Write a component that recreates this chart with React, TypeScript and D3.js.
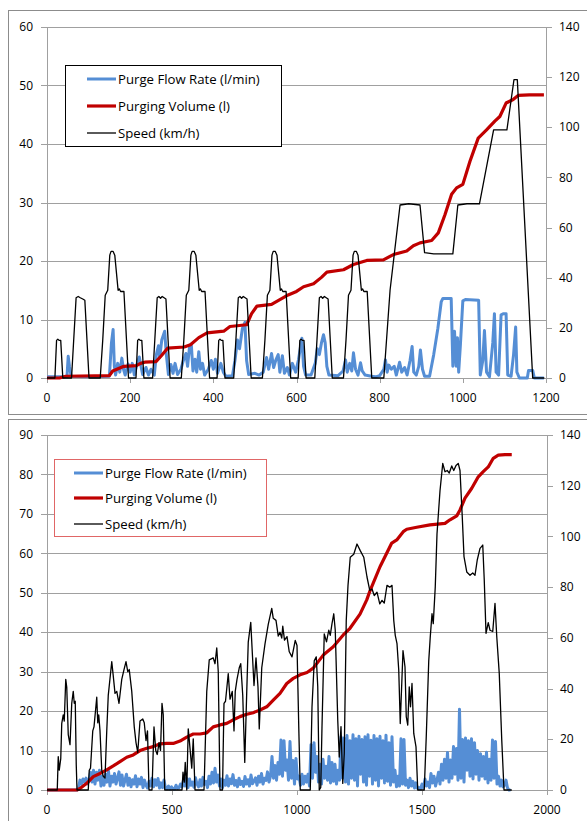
import * as React from "react"
import * as d3 from "d3"

type Pt = [number, number]

// ---- top panel (NEDC), time in s ----
const topFlow: Pt[] = [
    [0, 0.2], [48, 0.2], [51, 3.7], [54, 2], [58, 0.3], [100, 0.2], [150, 0.3], [155, 6], [159, 8.3], [162, 2],
    [165, 0.5], [170, 2.5], [175, 1], [180, 3.4], [184, 1.5], [188, 0.5], [195, 2.4], [200, 1], [205, 2.5], [210, 0.5],
    [218, 2.8], [222, 3.6], [226, 2], [230, 0.6], [238, 1.8], [244, 0.5], [250, 1.5], [258, 0.5], [263, 4], [268, 5.5],
    [271, 3.5], [276, 6.5], [283, 8], [287, 4], [292, 0.6], [298, 2.3], [303, 0.8], [308, 2.5], [314, 0.6], [322, 1.5],
    [328, 3], [334, 4.2], [338, 2], [343, 5.5], [347, 5.8], [351, 1.2], [356, 3.2], [360, 1], [365, 4.5], [369, 1.5],
    [374, 2.5], [379, 0.5], [388, 1.5], [395, 3], [400, 1.5], [405, 3.2], [410, 0.8], [418, 2.5], [424, 1], [430, 0.3],
    [446, 0.4], [452, 3], [458, 6.5], [463, 5], [470, 8.5], [476, 9.5], [480, 3], [485, 0.6], [500, 0.8], [510, 0.5],
    [520, 1], [528, 3.5], [533, 1.5], [540, 4.2], [545, 1.8], [550, 3], [556, 4], [560, 1], [566, 3.8], [571, 0.8],
    [578, 1.8], [583, 0.5], [590, 2.5], [598, 1], [605, 3.2], [610, 5.5], [613, 6.8], [617, 2], [622, 0.5], [635, 0.5],
    [645, 2.5], [650, 5], [655, 4], [660, 6], [665, 7.4], [669, 6], [673, 2], [678, 0.5], [700, 0.4], [712, 1.2],
    [718, 3.1], [722, 1], [728, 2.5], [733, 1.2], [737, 4.3], [742, 1.5], [748, 0.5], [754, 2.6], [758, 1.2], [765, 0.5],
    [780, 0.3], [790, 0.2], [800, 0.4], [810, 1.5], [814, 3.1], [818, 1], [822, 2.2], [828, 1.5], [835, 2], [840, 0.5],
    [848, 2.7], [853, 1], [860, 1.8], [866, 0.5], [873, 3], [878, 5.4], [882, 1], [888, 0.5], [894, 2], [898, 4.8],
    [903, 1.5], [908, 0.3], [920, 0.3], [930, 4], [940, 8.5], [948, 13], [952, 13.6], [972, 13.6], [976, 2], [980, 8],
    [984, 2], [987, 6.9], [990, 1], [994, 5.5], [1000, 13.2], [1006, 13.4], [1038, 13.3], [1042, 0.5], [1048, 3], [1052, 8.1],
    [1057, 1], [1064, 0.2], [1072, 6], [1076, 11], [1080, 1], [1086, 0.5], [1092, 10.8], [1098, 11], [1104, 11], [1108, 0.5],
    [1116, 0.3], [1122, 4], [1127, 8.7], [1130, 1], [1136, 0], [1155, 0], [1158, 1.3], [1168, 1.3], [1172, 0], [1195, 0],
]

const topVolume: Pt[] = [
    [0, 0], [30, 0], [45, 0.3], [150, 0.4], [158, 1.2], [168, 1.5], [185, 2.0], [215, 2.1], [225, 2.5], [235, 2.7],
    [262, 2.8], [275, 3.8], [290, 5.1], [330, 5.3], [345, 5.7], [365, 6.9], [385, 7.7], [425, 8.0], [440, 8.8], [480, 9.1],
    [492, 11], [505, 12.3], [540, 12.6], [560, 13.4], [580, 14.2], [600, 14.8], [617, 15.6], [641, 16.1], [660, 17.2], [673, 18.1],
    [713, 18.5], [737, 19.4], [769, 20.1], [809, 20.2], [833, 21.1], [865, 21.7], [881, 22.6], [897, 23.1], [925, 23.5], [941, 24.8],
    [957, 27.9], [973, 31.4], [985, 32.5], [1000, 33.1], [1017, 37], [1037, 41], [1057, 42.4], [1077, 43.9], [1089, 44.7], [1104, 47],
    [1121, 47.6], [1133, 48.3], [1160, 48.4], [1195, 48.4],
]

const topSpeed: Pt[] = [
    [0, 0], [19, 0], [23, 15], [26, 15.5], [29, 15], [33, 15], [38, 0], [59, 0], [70, 32], [75, 32.5],
    [80, 32], [86, 31.5], [91, 31], [101, 0], [128, 0], [134, 15], [140, 33], [146, 35], [151, 49], [154, 50.5],
    [159, 50.5], [163, 49], [171, 35], [174, 35.5], [177, 34.5], [185, 34.5], [196, 0],
    [214, 0], [218, 15], [221, 15.5], [224, 15], [228, 15], [233, 0], [254, 0], [265, 32], [269, 32.5],
    [273, 31.8], [277, 32.5], [286, 31.5], [296, 0], [323, 0], [329, 15], [335, 33], [341, 35], [346, 49], [349, 50.5],
    [354, 50.5], [358, 49], [366, 35], [369, 35.5], [372, 34.5], [380, 34.5], [391, 0],
    [409, 0], [413, 15], [416, 15.5], [419, 15], [423, 15], [428, 0], [449, 0], [460, 32], [464, 32.5],
    [468, 31.8], [472, 32.5], [481, 31.5], [491, 0], [518, 0], [524, 15], [530, 33], [536, 35], [541, 49], [544, 50.5],
    [549, 50.5], [553, 49], [561, 35], [564, 35.5], [567, 34.5], [575, 34.5], [586, 0],
    [604, 0], [608, 15], [611, 15.5], [614, 15], [618, 15], [623, 0], [644, 0], [655, 32], [659, 32.5],
    [663, 31.8], [667, 32.5], [676, 31.5], [686, 0], [713, 0], [719, 15], [725, 33], [731, 35], [736, 49], [739, 50.5],
    [744, 50.5], [748, 49], [756, 35], [759, 35.5], [762, 34.5], [770, 34.5], [781, 0],
    [810, 0], [825, 35], [849, 69], [870, 69.5], [897, 69], [908, 50], [930, 49.5], [976, 49.5], [988, 69], [1010, 69.5],
    [1040, 69.5], [1074, 99], [1090, 99], [1106, 99], [1123, 119], [1131, 119], [1168, 0], [1196, 0],
]

const topXTicks = [0, 200, 400, 600, 800, 1000, 1200]
const topLeftTicks = [0, 10, 20, 30, 40, 50, 60]
const topRightTicks = [0, 20, 40, 60, 80, 100, 120, 140]

// ---- bottom panel (road drive), flow sampled every 6 s ----
const bottomFlowStep = 6
const bottomFlow: number[] = [
    0, 0, 0, 0, 0, 0, 0, 0, 0, 0,
    0, 0, 0, 0, 0, 0, 0, 0, 0, 0,
    0, 0.5, 2.5, 1.5, 2.8, 2, 3, 1.5, 2.5, 4.5,
    2, 5, 1.5, 4.5, 2.5, 5, 1, 3.5, 1.2, 4,
    2, 4.8, 1, 3.5, 2, 4.2, 1.5, 3, 4.6, 1.2,
    3.8, 1, 2.5, 4, 1.2, 3, 0.8, 2.6, 1.5, 3.6,
    0.8, 2.8, 1.5, 3.2, 0.6, 2.5, 1.2, 0.5, 2.2, 1,
    3, 0.8, 2.6, 1.2, 2.9, 0.5, 1.8, 0.6, 2.5, 0.4,
    0.3, 1, 0.2, 0.8, 0.3, 0.2, 1.2, 0.4, 0.6, 1.5,
    0.8, 2.5, 1, 3, 0.6, 2.8, 1.2, 2, 0.7, 3.1,
    1.5, 0.8, 2.6, 1, 3.2, 1.4, 2.2, 0.6, 3.5, 1.5,
    4.5, 1.8, 5.5, 2, 3.8, 1, 2.8, 0.6, 2.5, 1.2,
    3.6, 1, 2.8, 1.6, 3.9, 1.2, 2.4, 0.8, 3, 1.4,
    2.2, 0.9, 3.4, 1.5, 2.6, 1, 3.8, 1.6, 2.2, 3.1,
    1.2, 3.5, 2, 4.2, 1.5, 3, 2.4, 4.6, 2, 3.5,
    8.5, 3, 6.2, 2.5, 7, 4, 12.7, 3.5, 12.5, 5,
    7.6, 2.5, 12.3, 3, 7.5, 1.5, 8, 2.8, 3.5, 1.2,
    4, 1.5, 3.5, 2, 4, 1, 11.5, 3, 12, 4.5,
    8.5, 2, 6.5, 1.5, 7.8, 3, 6, 2.5, 8.5, 1.8,
    7, 2.2, 6.5, 1.5, 5, 2.5, 13.5, 3, 13.2, 2,
    13.8, 1.5, 12.5, 3, 14, 2.5, 13, 1, 13.6, 4,
    12.8, 2, 13.5, 1.2, 14, 3.5, 12.6, 1.5, 13.8, 2.5,
    13, 1, 13.6, 3, 12.5, 1.8, 13.9, 2.2, 12, 1.2,
    13.5, 2, 5, 0.8, 3.5, 1, 13, 1.5, 12.8, 1.2,
    2.5, 0.6, 3, 1, 2.2, 0.5, 1.8, 0.4, 0.6, 0.3,
    1.5, 0.5, 2.8, 1, 2, 0.6, 4.2, 1.8, 3.5, 1,
    2.5, 4.5, 1.5, 6.5, 2.5, 7.8, 3, 9.5, 2, 7.6,
    3, 11, 4, 10.5, 2.5, 20.5, 3, 12.8, 2, 13.2,
    5, 12.5, 3.5, 13, 2.8, 12, 4, 10, 2.5, 9.2,
    3.5, 8.5, 2.8, 9.6, 1.8, 7.8, 2.5, 12.7, 3, 12.3,
    1.5, 3.5, 1, 2.5, 0.8, 1.2, 2.5, 0.5, 0, 0,
]

const bottomVolume: Pt[] = [
    [0, 0], [120, 0], [132, 0.4], [159, 1.7], [185, 3.4], [212, 4.2], [239, 5.1], [265, 6.1], [292, 7.2], [319, 8.3],
    [345, 8.9], [372, 10], [399, 10.6], [425, 11], [452, 11.7], [479, 11.8], [505, 11.8], [532, 12.4], [559, 13.4], [585, 14.2],
    [612, 14.2], [639, 14.5], [665, 16], [692, 16.5], [719, 16.9], [745, 17.8], [772, 18.6], [799, 19.2], [825, 19.6], [852, 20.3],
    [879, 21.1], [905, 22.8], [932, 24.5], [959, 27], [985, 28.3], [1012, 29.2], [1040, 29.8], [1065, 30.9], [1105, 34.2], [1145, 36.3],
    [1185, 39.3], [1212, 41], [1252, 44.6], [1279, 48.2], [1292, 50.5], [1332, 56.6], [1379, 62.6], [1399, 63.4], [1425, 65.5], [1439, 66.1],
    [1479, 66.6], [1532, 67.2], [1592, 67.6], [1612, 68.5], [1639, 69.5], [1652, 71], [1672, 74], [1699, 76.5], [1725, 79.4], [1745, 80.7],
    [1765, 81.9], [1785, 84.1], [1805, 84.9], [1832, 85], [1859, 85],
]

const bottomSpeed: Pt[] = [
    [0, 0], [41, 0], [45, 13.2], [49, 7.8], [55, 12.4], [59, 26.3], [65, 29.6], [69, 27.2], [75, 43.6], [79, 40.5],
    [85, 21.8], [92, 17.9], [99, 34.2], [105, 38.9], [109, 34.2], [113, 35], [117, 10], [120, 0], [165, 0], [169, 7.8],
    [174, 8.6], [183, 23.3], [188, 24.9], [199, 36.6], [203, 26.5], [207, 29.6], [212, 23.3], [219, 7.8], [225, 5.4], [232, 4.7],
    [239, 23.3], [245, 37.3], [259, 50.6], [265, 45], [272, 38.1], [279, 38.9], [288, 34.2], [299, 43.6], [308, 47.5], [316, 50.6],
    [323, 46.7], [329, 47.5], [339, 38.9], [349, 24.9], [356, 18.7], [363, 14.8], [372, 27.2], [383, 28], [389, 26.5], [396, 19.5],
    [402, 23.3], [408, 0], [420, 0], [428, 24.9], [435, 15.6], [441, 14], [448, 18.7], [454, 15.6], [460, 34.2], [465, 29.6],
    [471, 0], [540, 0], [544, 7], [549, 3.1], [553, 10.9], [559, 0], [565, 24.1], [570, 18.7], [579, 8.6], [585, 20.2],
    [592, 0], [628, 0], [632, 14], [639, 38.9], [649, 51.3], [665, 52.1], [672, 49.8], [679, 56], [685, 46.7], [692, 0],
    [702, 0], [708, 34.2], [714, 35], [725, 45.9], [732, 35.8], [741, 38.9], [748, 23.3], [753, 38.9], [760, 43.6], [769, 48.2],
    [775, 49.8], [783, 37.3], [791, 10.9], [799, 38.9], [805, 58.3], [815, 66.1], [821, 54.5], [828, 41.2], [836, 52.1], [844, 40.5],
    [849, 24.1], [859, 48.2], [872, 57.6], [885, 65.3], [899, 71.6], [905, 67.7], [916, 66.9], [925, 60.7], [932, 62.2], [939, 59.9],
    [943, 64.6], [950, 59.1], [960, 60.5], [969, 54.5], [980, 52.5], [993, 59], [1000, 57], [1007, 25], [1013, 0], [1053, 0],
    [1060, 32.8], [1069, 51], [1077, 52.5], [1083, 40.7], [1089, 0], [1095, 1], [1100, 25], [1109, 61.6], [1118, 58.4], [1127, 63],
    [1133, 61], [1140, 65.6], [1147, 69.5], [1153, 63], [1163, 27.5], [1169, 13], [1176, 25], [1183, 2.6], [1189, 14.4], [1197, 66.9],
    [1204, 80.7], [1213, 91.8], [1227, 93], [1240, 97], [1253, 94.4], [1267, 91.8], [1280, 84], [1291, 78.7], [1300, 79.3], [1309, 76.7],
    [1320, 78], [1331, 73.4], [1340, 74.8], [1349, 73.7], [1360, 80.7], [1371, 80], [1380, 80.7], [1387, 66.9], [1393, 61], [1400, 57.7],
    [1407, 47.2], [1413, 26.2], [1424, 55], [1432, 48.5], [1437, 28.9], [1443, 25.6], [1449, 40.7], [1454, 32.8], [1460, 42], [1467, 22.3],
    [1476, 17], [1483, 0], [1509, 0], [1517, 21], [1527, 51], [1533, 60.3], [1540, 69.5], [1545, 65.6], [1553, 80], [1560, 101],
    [1572, 118], [1583, 128.8], [1592, 125.5], [1601, 126], [1609, 125], [1619, 127.8], [1627, 126], [1636, 128], [1645, 128.8], [1652, 126],
    [1661, 107.8], [1668, 92], [1679, 86], [1692, 84.7], [1703, 85.6], [1712, 84.7], [1721, 90.7], [1732, 95.3], [1743, 96.6], [1749, 82.8],
    [1756, 61.8], [1765, 66], [1772, 63], [1783, 62.5], [1792, 73.6], [1799, 60.5], [1809, 46], [1819, 19.7], [1828, 0], [1859, 0],
]

const bottomXTicks = [0, 500, 1000, 1500, 2000]
const bottomLeftTicks = [0, 10, 20, 30, 40, 50, 60, 70, 80, 90]
const bottomRightTicks = [0, 20, 40, 60, 80, 100, 120, 140]

const legendLabels = ["Purge Flow Rate (l/min)", "Purging Volume (l)", "Speed (km/h)"]
const seriesColors = ["#558ED5", "#C00000", "#000000"]
const seriesWidths = [3, 3.2, 1.3]

const FONT = "'Open Sans', sans-serif"
const GRID = "#a0a0a0"

interface PanelProps {
    frame: { x: number, y: number, w: number, h: number }
    plot: { left: number, right: number, top: number, bottom: number }
    xMax: number
    leftMax: number
    rightMax: number
    xTicks: number[]
    leftTicks: number[]
    rightTicks: number[]
    flow: Pt[]
    volume: Pt[]
    speed: Pt[]
    legend: { x: number, y: number, w: number, h: number, stroke: string, rows: number[], lineX: number }
}

const Panel = ({ frame, plot, xMax, leftMax, rightMax, xTicks, leftTicks, rightTicks, flow, volume, speed, legend }: PanelProps) => {
    const x = d3.scaleLinear().domain([0, xMax]).range([plot.left, plot.right])
    const yL = d3.scaleLinear().domain([0, leftMax]).range([plot.bottom, plot.top])
    const yR = d3.scaleLinear().domain([0, rightMax]).range([plot.bottom, plot.top])

    const lineL = d3.line<Pt>().x(d => x(d[0])).y(d => yL(d[1]))
    const lineR = d3.line<Pt>().x(d => x(d[0])).y(d => yR(d[1]))

    return (
        <g>
            <rect x={frame.x + 0.5} y={frame.y + 0.5} width={frame.w} height={frame.h} fill="white" stroke="#8c8c8c" strokeWidth={1} />
            {leftTicks.map((d, i) => (
                <g key={"l" + i}>
                    <line x1={plot.left - 6} x2={plot.right} y1={Math.round(yL(d)) + 0.5} y2={Math.round(yL(d)) + 0.5} stroke={GRID} strokeWidth={1} />
                    <text x={plot.left - 14} y={yL(d)} dy="0.35em" textAnchor="end" fontSize={12} fontFamily={FONT} fill="#000">{d}</text>
                </g>
            ))}
            {rightTicks.map((d, i) => (
                <g key={"r" + i}>
                    <line x1={plot.right} x2={plot.right + 6} y1={Math.round(yR(d)) + 0.5} y2={Math.round(yR(d)) + 0.5} stroke={GRID} strokeWidth={1} />
                    <text x={plot.right + 13} y={yR(d)} dy="0.35em" textAnchor="start" fontSize={12} fontFamily={FONT} fill="#000">{d}</text>
                </g>
            ))}
            {xTicks.map((d, i) => (
                <g key={"x" + i}>
                    <line x1={Math.round(x(d)) + 0.5} x2={Math.round(x(d)) + 0.5} y1={plot.bottom} y2={plot.bottom + 5} stroke={GRID} strokeWidth={1} />
                    <text x={x(d)} y={plot.bottom + 20} dy="0.35em" textAnchor="middle" fontSize={12} fontFamily={FONT} fill="#000">{d}</text>
                </g>
            ))}
            <line x1={plot.left + 0.5} x2={plot.left + 0.5} y1={plot.top} y2={plot.bottom} stroke={GRID} strokeWidth={1} />
            <line x1={plot.right + 0.5} x2={plot.right + 0.5} y1={plot.top} y2={plot.bottom} stroke={GRID} strokeWidth={1} />

            <g>
                <rect x={legend.x + 0.5} y={legend.y + 0.5} width={legend.w} height={legend.h} fill="white" stroke={legend.stroke} strokeWidth={1} />
                {legendLabels.map((label, i) => (
                    <g key={label}>
                        <line x1={legend.lineX} x2={legend.lineX + 29} y1={legend.y + legend.rows[i]} y2={legend.y + legend.rows[i]}
                            stroke={seriesColors[i]} strokeWidth={seriesWidths[i]} />
                        <text x={legend.lineX + 31} y={legend.y + legend.rows[i]} dy="0.35em" fontSize={13.2} fontFamily={FONT} fill="#000">{label}</text>
                    </g>
                ))}
            </g>

            <path d={lineL(flow) ?? ""} fill="none" stroke={seriesColors[0]} strokeWidth={seriesWidths[0]} strokeLinejoin="round" />
            <path d={lineL(volume) ?? ""} fill="none" stroke={seriesColors[1]} strokeWidth={seriesWidths[1]} strokeLinejoin="round" />
            <path d={lineR(speed) ?? ""} fill="none" stroke={seriesColors[2]} strokeWidth={seriesWidths[2]} strokeLinejoin="round" />
        </g>
    )
}

export default function App() {
    const bottomFlowPts: Pt[] = bottomFlow.map((v, i) => [i * bottomFlowStep, v])

    return (
        <svg width={587} height={821} style={{ position: "absolute", left: 0, top: 0, background: "white" }}>
            <Panel
                frame={{ x: 8, y: 10, w: 600, h: 404 }}
                plot={{ left: 47, right: 546, top: 27, bottom: 378 }}
                xMax={1200} leftMax={60} rightMax={140}
                xTicks={topXTicks} leftTicks={topLeftTicks} rightTicks={topRightTicks}
                flow={topFlow} volume={topVolume} speed={topSpeed}
                legend={{ x: 65, y: 65, w: 216, h: 81, stroke: "#000", rows: [14, 41, 68], lineX: 87 }}
            />
            <Panel
                frame={{ x: 8, y: 419, w: 600, h: 420 }}
                plot={{ left: 47, right: 547, top: 435, bottom: 790 }}
                xMax={2000} leftMax={90} rightMax={140}
                xTicks={bottomXTicks} leftTicks={bottomLeftTicks} rightTicks={bottomRightTicks}
                flow={bottomFlowPts} volume={bottomVolume} speed={bottomSpeed}
                legend={{ x: 54, y: 459, w: 212, h: 77, stroke: "#E06666", rows: [14, 39, 65], lineX: 74 }}
            />
        </svg>
    )
}
